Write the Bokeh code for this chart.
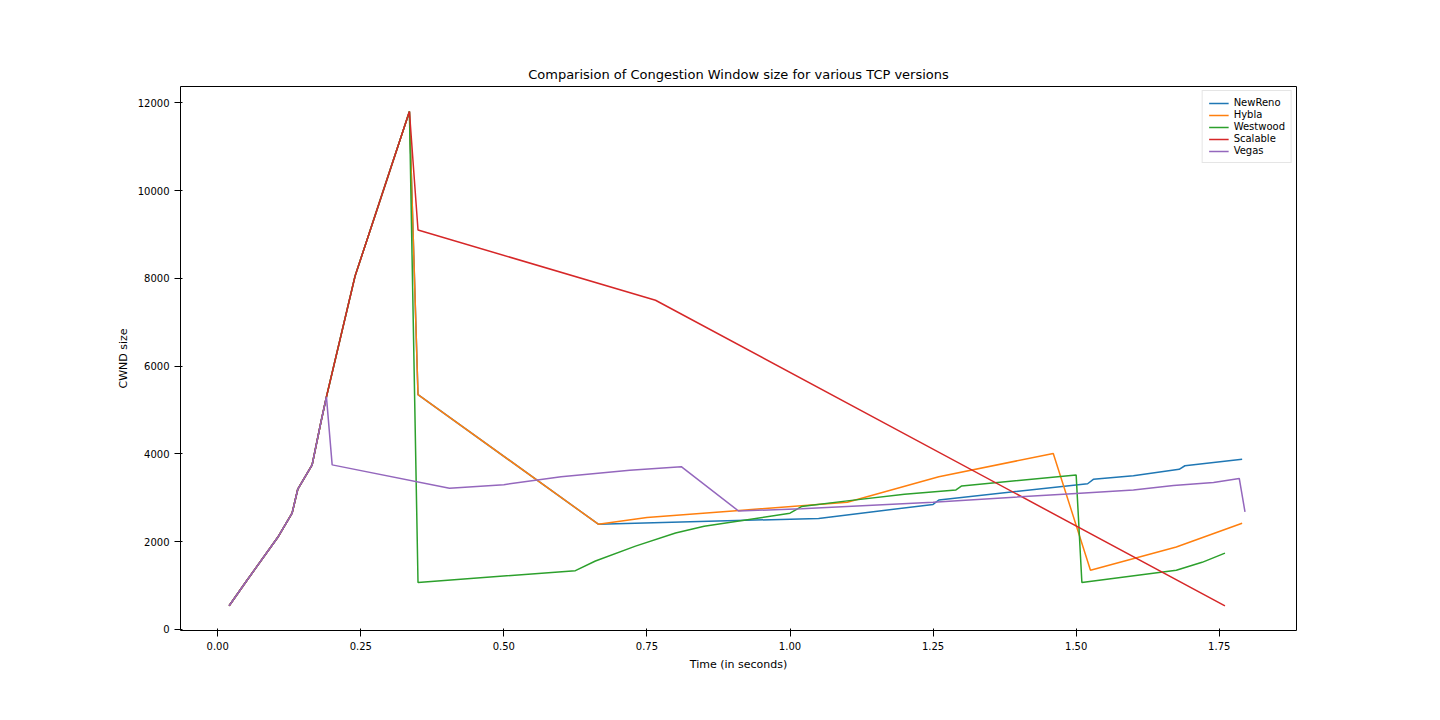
from bokeh.plotting import figure
from bokeh.models import Range1d, FixedTicker, Legend
from bokeh.embed import file_html
from bokeh.resources import INLINE

start_t = [0.02, 0.05, 0.105, 0.13, 0.14, 0.165, 0.18, 0.19]
start_w = [540, 1100, 2100, 2650, 3200, 3750, 4700, 5300]
peak_t = [0.24, 0.335]
peak_w = [8050, 11800]

newreno_t = start_t + peak_t + [0.35, 0.665, 1.05, 1.25, 1.26, 1.52, 1.53, 1.6, 1.68, 1.69, 1.79]
newreno_w = start_w + peak_w + [5350, 2400, 2530, 2850, 2950, 3320, 3420, 3500, 3650, 3730, 3880]
hybla_t = start_t + peak_t + [0.35, 0.665, 0.75, 0.9, 1.1, 1.26, 1.46, 1.525, 1.675, 1.79]
hybla_w = start_w + peak_w + [5350, 2400, 2550, 2700, 2900, 3480, 4010, 1350, 1880, 2420]
westwood_t = start_t + peak_t + [0.35, 0.625, 0.66, 0.73, 0.8, 0.85, 1.0, 1.02, 1.1, 1.2, 1.29, 1.3, 1.5, 1.51, 1.675, 1.72, 1.76]
westwood_w = start_w + peak_w + [1070, 1340, 1560, 1900, 2200, 2350, 2650, 2800, 2930, 3080, 3180, 3270, 3520, 1070, 1350, 1530, 1740]
scalable_t = start_t + peak_t + [0.35, 0.765, 1.76]
scalable_w = start_w + peak_w + [9100, 7500, 540]
vegas_t = start_t + [0.20, 0.405, 0.5, 0.6, 0.72, 0.81, 0.91, 1.02, 1.25, 1.5, 1.6, 1.67, 1.74, 1.785, 1.795]
vegas_w = start_w + [3750, 3220, 3300, 3480, 3630, 3710, 2700, 2750, 2900, 3100, 3180, 3280, 3350, 3440, 2680]

series = [
    ("NewReno", newreno_t, newreno_w, "#1f77b4"),
    ("Hybla", hybla_t, hybla_w, "#ff7f0e"),
    ("Westwood", westwood_t, westwood_w, "#2ca02c"),
    ("Scalable", scalable_t, scalable_w, "#d62728"),
    ("Vegas", vegas_t, vegas_w, "#9467bd"),
]

p = figure(width=1432, height=712, output_backend="svg", toolbar_location=None,
           title="Comparision of Congestion Window size for various TCP versions",
           x_range=Range1d(-0.065, 1.885), y_range=Range1d(-23, 12370),
           min_border_left=180, min_border_right=136, min_border_top=86, min_border_bottom=82)
p.title.align = "center"
p.title.text_font_size = "13px"
p.title.text_font_style = "normal"
p.title.text_font = "DejaVu Sans"
p.title.text_color = "black"
p.xgrid.grid_line_color = None
p.ygrid.grid_line_color = None
p.outline_line_color = "black"
p.xaxis.ticker = FixedTicker(ticks=[0, 0.25, 0.5, 0.75, 1.0, 1.25, 1.5, 1.75])
p.xaxis.major_label_overrides = {0: "0.00", 0.25: "0.25", 0.5: "0.50", 0.75: "0.75",
                                 1.0: "1.00", 1.25: "1.25", 1.5: "1.50", 1.75: "1.75"}
p.yaxis.ticker = FixedTicker(ticks=[0, 2000, 4000, 6000, 8000, 10000, 12000])
p.xaxis.axis_label = "Time (in seconds)"
p.yaxis.axis_label = "CWND size"
for ax in (p.xaxis, p.yaxis):
    ax.axis_label_text_font_style = "normal"
    ax.axis_label_text_font_size = "11px"
    ax.major_label_text_font_size = "10px"
    ax.minor_tick_line_color = None
    ax.axis_label_text_font = "DejaVu Sans"
    ax.major_label_text_font = "DejaVu Sans"
    ax.axis_label_text_color = "black"
    ax.major_label_text_color = "black"
    ax.axis_line_color = None
    ax.major_tick_line_color = "black"

items = []
for name, t, w, c in series:
    r = p.line(t, w, line_color=c, line_width=1.5)
    items.append((name, [r]))

legend = Legend(items=items, location="top_right", label_text_font_size="10px",
                label_height=10, glyph_height=10, spacing=1, padding=6, margin=4,
                border_line_color="#cccccc", label_text_font="DejaVu Sans",
                label_text_color="black")
p.add_layout(legend)

open("out.html", "w").write(file_html(p, INLINE))
